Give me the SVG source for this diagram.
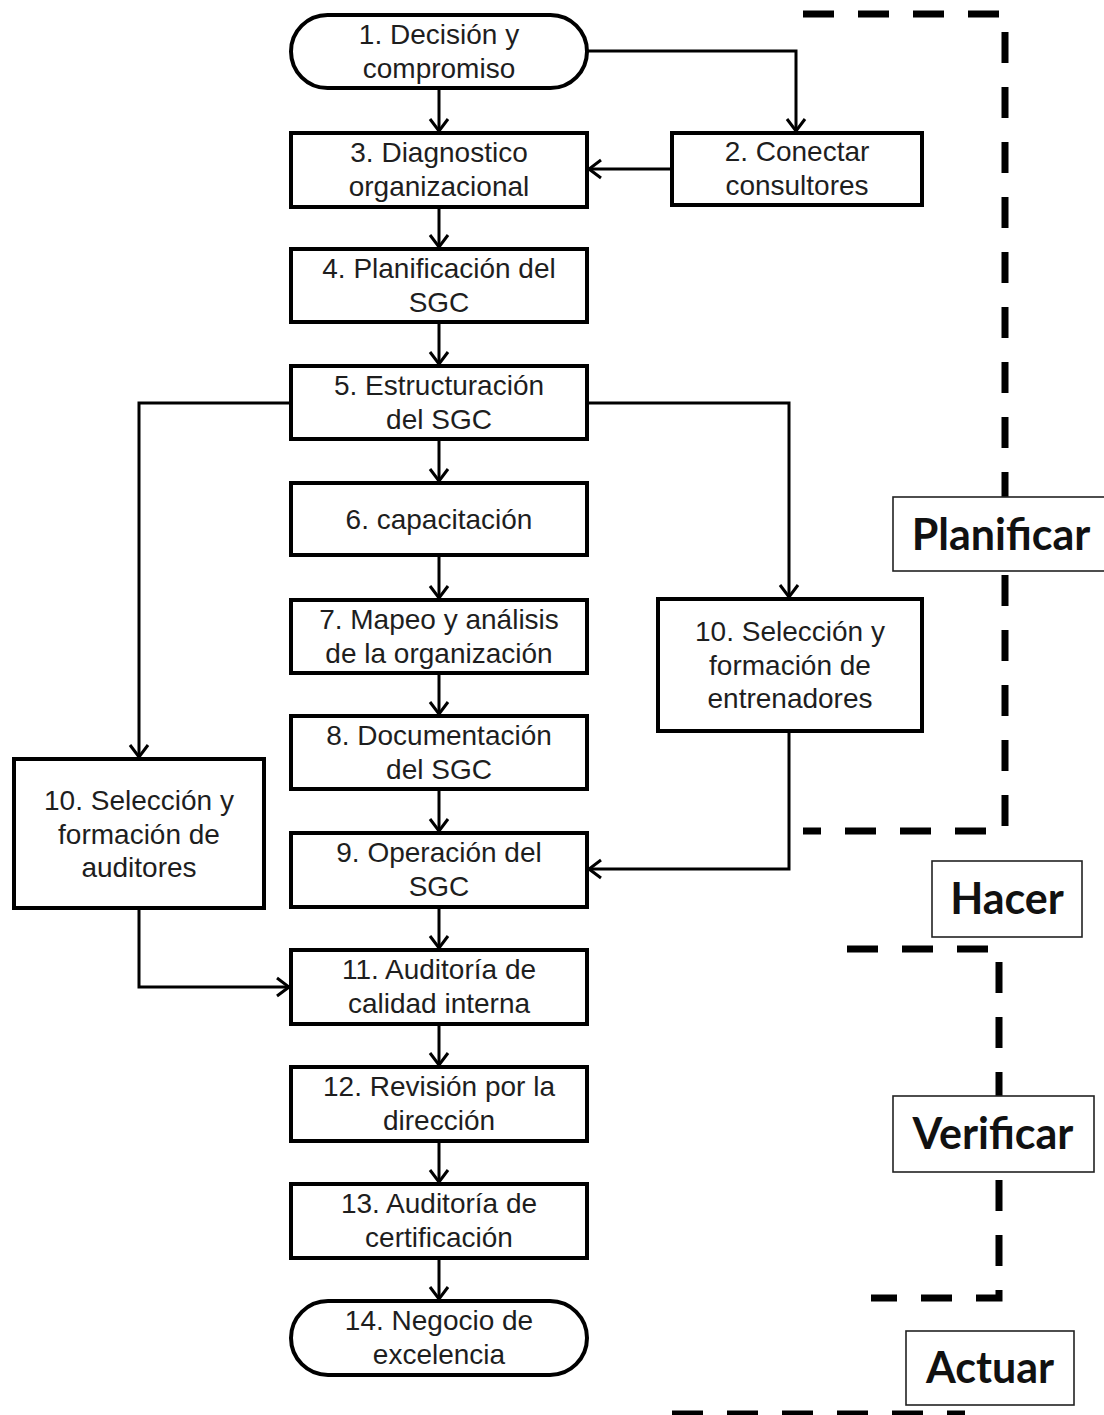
<svg xmlns="http://www.w3.org/2000/svg" width="1104" height="1415" viewBox="0 0 1104 1415">
<style>
.box{fill:#fff;stroke:#000;stroke-width:4}
.t{font-family:"Liberation Sans",Arial,sans-serif;font-size:28px;fill:#1e1e1e;text-anchor:middle}
.c{fill:none;stroke:#000;stroke-width:3}
.lbl{fill:#fff;stroke:#222;stroke-width:1.6}
.lt{font-family:Lato,"Open Sans",sans-serif;font-weight:bold;font-size:43px;fill:#111;text-anchor:middle}
.d{fill:none;stroke:#000;stroke-width:7;stroke-dasharray:31 24}
</style>
<defs>
<marker id="a" markerUnits="userSpaceOnUse" viewBox="-15 -12 17 24" markerWidth="17" markerHeight="24" refX="0" refY="0" orient="auto">
<path d="M-12,-9 L0,0 L-12,9" fill="none" stroke="#000" stroke-width="3"/>
</marker>
</defs>
<rect width="1104" height="1415" fill="#fff"/>

<g id="connectors">
<path class="c" d="M439,88 V131" marker-end="url(#a)"/>
<path class="c" d="M587,51 H796 V131" marker-end="url(#a)"/>
<path class="c" d="M672,169 H589" marker-end="url(#a)"/>
<path class="c" d="M439,207 V247" marker-end="url(#a)"/>
<path class="c" d="M439,322 V364" marker-end="url(#a)"/>
<path class="c" d="M439,439 V481" marker-end="url(#a)"/>
<path class="c" d="M439,555 V598" marker-end="url(#a)"/>
<path class="c" d="M439,673 V714" marker-end="url(#a)"/>
<path class="c" d="M439,789 V831" marker-end="url(#a)"/>
<path class="c" d="M439,907 V948" marker-end="url(#a)"/>
<path class="c" d="M439,1024 V1065" marker-end="url(#a)"/>
<path class="c" d="M439,1141 V1182" marker-end="url(#a)"/>
<path class="c" d="M439,1258 V1299" marker-end="url(#a)"/>
<path class="c" d="M291,403 H139 V757" marker-end="url(#a)"/>
<path class="c" d="M587,403 H789 V597" marker-end="url(#a)"/>
<path class="c" d="M789,731 V869 H589" marker-end="url(#a)"/>
<path class="c" d="M139,908 V987 H289" marker-end="url(#a)"/>
</g>

<g id="phases">
<path class="d" d="M803,14 H1005 V497"/>
<path class="d" d="M1005,575 V831 H803"/>
<path class="d" d="M847,949 H999 V1096"/>
<path class="d" d="M999,1180 V1298 H871"/>
<path class="d" d="M672,1414 H965"/>
</g>

<g id="n1"><rect class="box" x="291" y="15" width="296" height="73" rx="36.5"/><text class="t" x="439" y="44">1. Decisión y</text><text class="t" x="439" y="78">compromiso</text></g>
<g id="n2"><rect class="box" x="672" y="133" width="250" height="72"/><text class="t" x="797" y="161">2. Conectar</text><text class="t" x="797" y="195">consultores</text></g>
<g id="n3"><rect class="box" x="291" y="133" width="296" height="74"/><text class="t" x="439" y="162">3. Diagnostico</text><text class="t" x="439" y="196">organizacional</text></g>
<g id="n4"><rect class="box" x="291" y="249" width="296" height="73"/><text class="t" x="439" y="278">4. Planificación del</text><text class="t" x="439" y="312">SGC</text></g>
<g id="n5"><rect class="box" x="291" y="366" width="296" height="73"/><text class="t" x="439" y="395">5. Estructuración</text><text class="t" x="439" y="429">del SGC</text></g>
<g id="n6"><rect class="box" x="291" y="483" width="296" height="72"/><text class="t" x="439" y="529">6. capacitación</text></g>
<g id="n7"><rect class="box" x="291" y="600" width="296" height="73"/><text class="t" x="439" y="629">7. Mapeo y análisis</text><text class="t" x="439" y="663">de la organización</text></g>
<g id="n8"><rect class="box" x="291" y="716" width="296" height="73"/><text class="t" x="439" y="745">8. Documentación</text><text class="t" x="439" y="779">del SGC</text></g>
<g id="n9"><rect class="box" x="291" y="833" width="296" height="74"/><text class="t" x="439" y="862">9. Operación del</text><text class="t" x="439" y="896">SGC</text></g>
<g id="n10a"><rect class="box" x="658" y="599" width="264" height="132"/><text class="t" x="790" y="641">10. Selección y</text><text class="t" x="790" y="675">formación de</text><text class="t" x="790" y="708">entrenadores</text></g>
<g id="n10b"><rect class="box" x="14" y="759" width="250" height="149"/><text class="t" x="139" y="810">10. Selección y</text><text class="t" x="139" y="844">formación de</text><text class="t" x="139" y="877">auditores</text></g>
<g id="n11"><rect class="box" x="291" y="950" width="296" height="74"/><text class="t" x="439" y="979">11. Auditoría de</text><text class="t" x="439" y="1013">calidad interna</text></g>
<g id="n12"><rect class="box" x="291" y="1067" width="296" height="74"/><text class="t" x="439" y="1096">12. Revisión por la</text><text class="t" x="439" y="1130">dirección</text></g>
<g id="n13"><rect class="box" x="291" y="1184" width="296" height="74"/><text class="t" x="439" y="1213">13. Auditoría de</text><text class="t" x="439" y="1247">certificación</text></g>
<g id="n14"><rect class="box" x="291" y="1301" width="296" height="74" rx="37"/><text class="t" x="439" y="1330">14. Negocio de</text><text class="t" x="439" y="1364">excelencia</text></g>

<g id="planificar"><rect class="lbl" x="893" y="497" width="212" height="74"/><text class="lt" x="1001" y="550">Planificar</text></g>
<g id="hacer"><rect class="lbl" x="932" y="861" width="150" height="76"/><text class="lt" x="1007" y="914">Hacer</text></g>
<g id="verificar"><rect class="lbl" x="893" y="1096" width="201" height="76"/><text class="lt" x="993" y="1149">Verificar</text></g>
<g id="actuar"><rect class="lbl" x="906" y="1331" width="168" height="74"/><text class="lt" x="990" y="1383">Actuar</text></g>
</svg>
